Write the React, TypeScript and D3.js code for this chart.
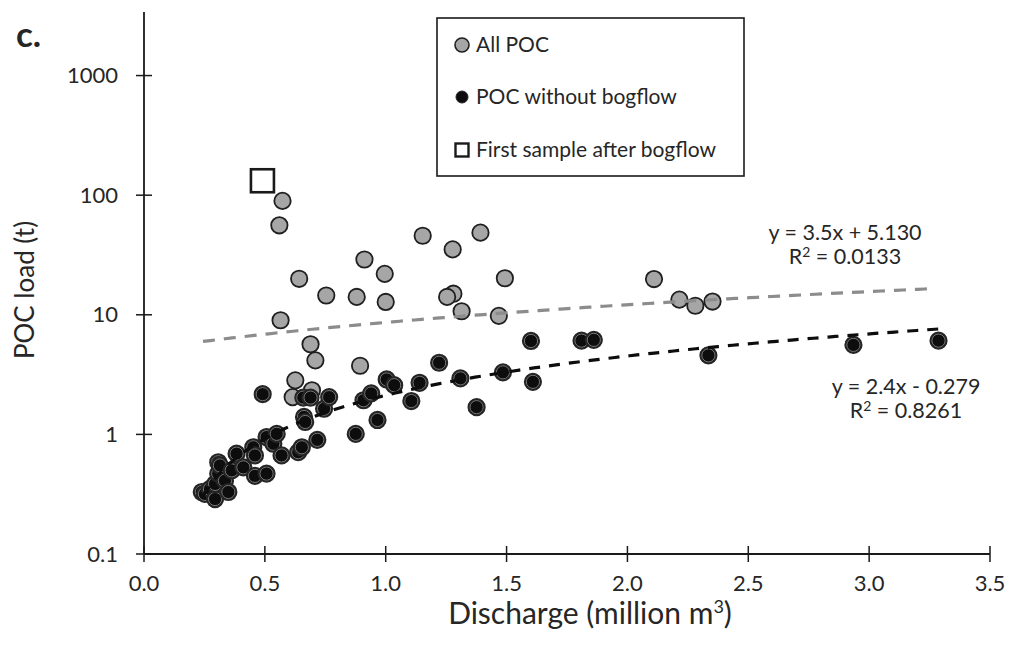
import React from "react";
import * as d3 from "d3";

// All POC samples visible as grey (bogflow-affected) – discharge (million m3) and POC load (t)
const greyX = [0.573, 0.56, 0.642, 0.754, 0.88, 0.912, 0.996, 1.0, 1.153, 1.277, 1.392, 1.28, 1.254, 1.314, 1.493, 1.468, 0.565, 0.689, 0.709, 0.626, 0.894, 0.615, 0.695, 2.11, 2.215, 2.281, 2.352];
const greyY = [89.6, 56, 20, 14.5, 14.1, 29, 22, 12.8, 45.8, 35.2, 48.6, 15, 14.1, 10.7, 20.2, 9.8, 9.0, 5.67, 4.16, 2.83, 3.75, 2.05, 2.34, 19.9, 13.4, 11.9, 12.9];

// POC without bogflow
const blackX = [0.239, 0.252, 0.273, 0.294, 0.294, 0.307, 0.307, 0.314, 0.335, 0.349, 0.363, 0.383, 0.411, 0.452, 0.459, 0.459, 0.507, 0.507, 0.535, 0.549, 0.569, 0.491, 0.638, 0.653, 0.659, 0.689, 0.662, 0.667, 0.717, 0.745, 0.766, 0.876, 0.908, 0.94, 0.966, 1.004, 1.035, 1.106, 1.14, 1.221, 1.309, 1.376, 1.485, 1.601, 1.609, 1.81, 1.861, 2.335, 2.935, 3.287];
const blackY = [0.33, 0.318, 0.35, 0.288, 0.385, 0.47, 0.585, 0.55, 0.41, 0.33, 0.5, 0.69, 0.53, 0.78, 0.667, 0.45, 0.47, 0.95, 0.835, 1.01, 0.667, 2.17, 0.71, 0.78, 2.03, 2.03, 1.4, 1.27, 0.9, 1.64, 2.05, 1.01, 1.93, 2.2, 1.32, 2.88, 2.58, 1.9, 2.7, 3.97, 2.94, 1.69, 3.3, 6.04, 2.75, 6.08, 6.17, 4.58, 5.6, 6.08];

// First sample after bogflow
const squareX = [0.49];
const squareY = [132];

// Linear trendlines (y = a x + b), drawn over the data's x range
const trendAll = { a: 3.5, b: 5.13, x0: 0.244, x1: 3.26 };
const trendNoBog = { a: 2.4, b: -0.279, x0: 0.244, x1: 3.287 };

const xTicks = [0, 0.5, 1, 1.5, 2, 2.5, 3, 3.5];
const yTicks = [0.1, 1, 10, 100, 1000];

const FONT = "Lato, 'Open Sans', sans-serif";
const TXT = "#262626";

export default function App() {
  const W = 1022, H = 648;
  const x = d3.scaleLinear().domain([0, 3.5]).range([144, 990]);
  const y = d3.scaleLog().domain([0.1, 3400]).range([554, 12]);

  const trendPath = (t: { a: number; b: number; x0: number; x1: number }) => {
    const pts = d3.range(0, 101).map((i) => t.x0 + ((t.x1 - t.x0) * i) / 100);
    const line = d3
      .line<number>()
      .x((v) => x(v))
      .y((v) => y(t.a * v + t.b));
    return line(pts.filter((v) => t.a * v + t.b > 0)) || "";
  };

  const r = 8.2;

  return (
    <div style={{ position: "absolute", left: 0, top: 0 }}>
      <svg width={W} height={H} style={{ display: "block", background: "#fff" }}>
        {/* panel label */}
        <text x={16} y={47} fontFamily={FONT} fontWeight="bold" fontSize={35} fill={TXT}>
          c.
        </text>

        {/* axes */}
        <line x1={x(0)} x2={x(0)} y1={y.range()[1]} y2={y(0.1)} stroke="#1a1a1a" strokeWidth={1.8} />
        <line x1={x(0)} x2={x(3.5)} y1={y(0.1)} y2={y(0.1)} stroke="#1a1a1a" strokeWidth={1.8} />
        {yTicks.map((t) => (
          <g key={"y" + t}>
            <line x1={x(0) - 8} x2={x(0) + 8} y1={y(t)} y2={y(t)} stroke="#1a1a1a" strokeWidth={1.5} />
            <text x={x(0) - 26} y={y(t)} dy="0.35em" textAnchor="end" fontFamily={FONT} fontSize={22} fill={TXT}>
              {t}
            </text>
          </g>
        ))}
        {xTicks.map((t) => (
          <g key={"x" + t}>
            <line x1={x(t)} x2={x(t)} y1={y(0.1) - 8} y2={y(0.1) + 8} stroke="#1a1a1a" strokeWidth={1.5} />
            <text x={x(t)} y={y(0.1) + 29} dy="0.35em" textAnchor="middle" fontFamily={FONT} fontSize={22} fill={TXT}>
              {t.toFixed(1)}
            </text>
          </g>
        ))}

        {/* axis titles */}
        <text x={590} y={624} textAnchor="middle" fontFamily={FONT} fontSize={30} fill={TXT}>
          Discharge (million m<tspan dy={-11} fontSize={18}>3</tspan>
          <tspan dy={11}>)</tspan>
        </text>
        <text
          transform="translate(34,290) rotate(-90)"
          textAnchor="middle"
          fontFamily={FONT}
          fontSize={26}
          fill={TXT}
        >
          POC load (t)
        </text>

        {/* grey points */}
        {greyX.map((v, i) => (
          <circle key={"g" + i} cx={x(v)} cy={y(greyY[i])} r={r} fill="#a6a6a6" stroke="#1f1f1f" strokeWidth={1.8} />
        ))}
        {/* black points */}
        {blackX.map((v, i) => (
          <g key={"b" + i}>
            <circle cx={x(v)} cy={y(blackY[i])} r={r} fill="#0d0d0d" stroke="#262626" strokeWidth={1.8} />
            <circle cx={x(v)} cy={y(blackY[i])} r={r - 1.6} fill="none" stroke="#7a7a7a" strokeWidth={1} />
          </g>
        ))}
        {/* square */}
        {squareX.map((v, i) => (
          <rect key={"s" + i} x={x(v) - 11.5} y={y(squareY[i]) - 11.5} width={23} height={23} fill="#fff" stroke="#1a1a1a" strokeWidth={2.6} />
        ))}

        {/* trendlines */}
        <path d={trendPath(trendAll)} fill="none" stroke="#8c8c8c" strokeWidth={3.2} strokeDasharray="12 9" />
        <path d={trendPath(trendNoBog)} fill="none" stroke="#0d0d0d" strokeWidth={3.2} strokeDasharray="11 9" />

        {/* equations */}
        <text x={845} y={232} dy="0.35em" textAnchor="middle" fontFamily={FONT} fontSize={21.5} fill={TXT}>
          y = 3.5x + 5.130
        </text>
        <text x={845} y={256} dy="0.35em" textAnchor="middle" fontFamily={FONT} fontSize={21.5} fill={TXT}>
          R<tspan dy={-7} fontSize={14}>2</tspan><tspan dy={7}> = 0.0133</tspan>
        </text>
        <text x={906} y={386} dy="0.35em" textAnchor="middle" fontFamily={FONT} fontSize={21.5} fill={TXT}>
          y = 2.4x - 0.279
        </text>
        <text x={906} y={410} dy="0.35em" textAnchor="middle" fontFamily={FONT} fontSize={21.5} fill={TXT}>
          R<tspan dy={-7} fontSize={14}>2</tspan><tspan dy={7}> = 0.8261</tspan>
        </text>

        {/* legend */}
        <rect x={437} y={18} width={307} height={158} fill="#fff" stroke="#1a1a1a" strokeWidth={1.6} />
        <circle cx={462} cy={45} r={7} fill="#a6a6a6" stroke="#1f1f1f" strokeWidth={1.6} />
        <text x={476} y={45} dy="0.35em" fontFamily={FONT} fontSize={21} fill={TXT}>All POC</text>
        <circle cx={462} cy={97} r={6} fill="#0d0d0d" stroke="#262626" strokeWidth={1} />
        <text x={476} y={97} dy="0.35em" fontFamily={FONT} fontSize={21} fill={TXT}>POC without bogflow</text>
        <rect x={455.5} y={143.5} width={13} height={13} fill="#fff" stroke="#1a1a1a" strokeWidth={2.4} />
        <text x={476} y={150} dy="0.35em" fontFamily={FONT} fontSize={21} fill={TXT}>First sample after bogflow</text>
      </svg>
    </div>
  );
}
